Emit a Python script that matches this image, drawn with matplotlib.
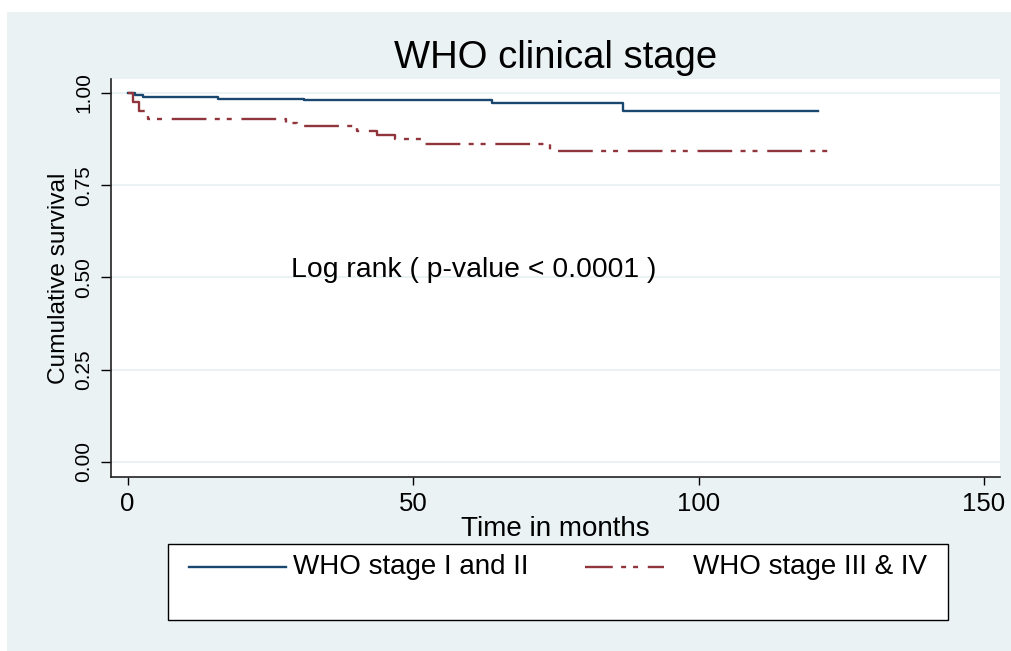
import matplotlib
matplotlib.use("Agg")
import matplotlib.pyplot as plt
from matplotlib.patches import Rectangle
from matplotlib.lines import Line2D

# Kaplan-Meier step points (months, survival)
stage12_time = [0, 1.3, 2.7, 15.9, 30.9, 63.8, 86.8, 120.9]
stage12_surv = [1.0, 0.995, 0.990, 0.985, 0.981, 0.974, 0.952, 0.952]
stage34_time = [0, 0.9, 2.0, 3.5, 27.8, 29.6, 40.1, 43.7, 46.8, 51.8, 73.9, 122.7]
stage34_surv = [1.0, 0.976, 0.950, 0.929, 0.920, 0.911, 0.898, 0.886, 0.874, 0.862, 0.843, 0.843]

series_labels = ["WHO stage I and II", "WHO stage III & IV"]
x_ticks = [0, 50, 100, 150]
y_ticks = [0.0, 0.25, 0.5, 0.75, 1.0]
y_ticklabels = ["0.00", "0.25", "0.50", "0.75", "1.00"]

# Stata s2color look
BG = "#EAF2F3"
NAVY = "#1A476F"
MAROON = "#90353B"
DASHDOT = (0, (25, 6, 3.6, 5, 3.6, 7))

plt.rcParams["font.family"] = ["Liberation Sans", "DejaVu Sans"]
plt.rcParams["lines.scale_dashes"] = False

fig = plt.figure(figsize=(10.11, 6.51), dpi=100, facecolor="white")
# light blue graph region (white strip at top and left like the original export)
fig.patches.append(Rectangle((7 / 1011, 0), 1, 1 - 12 / 651, transform=fig.transFigure,
                             facecolor=BG, edgecolor="none", zorder=-10))

ax = fig.add_axes([111 / 1011, 1 - 477 / 651, 889 / 1011, 398 / 651])
ax.set_facecolor("white")

ax.step(stage12_time, stage12_surv, where="post", color=NAVY, lw=1.7)
ax.step(stage34_time, stage34_surv, where="post", color=MAROON, lw=1.7, linestyle=DASHDOT)

ax.set_xlim(-2.9, 152.8)
ax.set_ylim(-0.041, 1.038)
ax.set_xticks(x_ticks)
ax.set_yticks(y_ticks)
ax.set_yticklabels(y_ticklabels, rotation=90, va="center")
ax.tick_params(axis="x", length=6, width=1, labelsize=18.5, pad=5)
ax.tick_params(axis="y", length=7, width=1, labelsize=15, pad=6)
ax.yaxis.grid(True, color=BG, lw=1.5)
ax.set_axisbelow(True)

for side in ["top", "right"]:
    ax.spines[side].set_visible(False)
for side in ["left", "bottom"]:
    ax.spines[side].set_color("#222222")
    ax.spines[side].set_linewidth(1.2)

ax.set_title("WHO clinical stage", fontsize=27.5, pad=8)
ax.set_xlabel("Time in months", fontsize=20, labelpad=0)
ax.set_ylabel("Cumulative survival", fontsize=17.6, labelpad=3)

ax.text(28.7, 0.52, "Log rank ( p-value < 0.0001 )", fontsize=20.4, ha="left", va="center")

# legend box drawn like Stata's (one row, empty second row)
fig.patches.append(Rectangle((167.6 / 1011, 1 - 620 / 651), (948 - 167.6) / 1011, 76 / 651,
                             transform=fig.transFigure, facecolor="white",
                             edgecolor="black", lw=1.0))
ly = 1 - 567 / 651
fig.lines.append(Line2D([189 / 1011, 286 / 1011], [ly, ly], transform=fig.transFigure,
                        color=NAVY, lw=1.7))
fig.lines.append(Line2D([585 / 1011, 664 / 1011], [ly, ly], transform=fig.transFigure,
                        color=MAROON, lw=1.7, linestyle=(5, (25, 6, 3.6, 5, 3.6, 7))))
fig.text(293 / 1011, ly, series_labels[0], fontsize=20, ha="left", va="center")
fig.text(693 / 1011, ly, series_labels[1], fontsize=20, ha="left", va="center")

fig.savefig("out.png", dpi=100, facecolor=fig.get_facecolor())
